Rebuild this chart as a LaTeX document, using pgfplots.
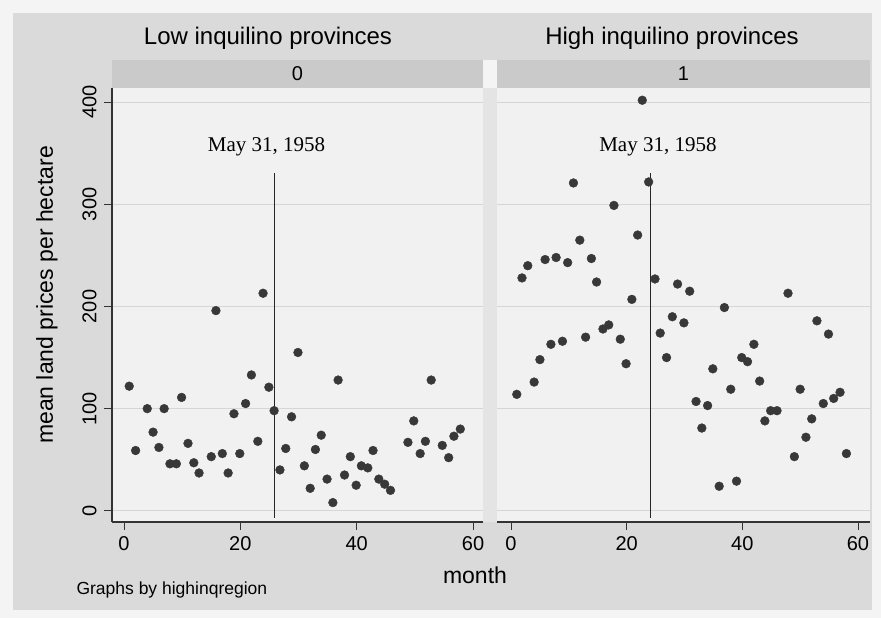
\documentclass[border=0pt]{standalone}
\usepackage{fontspec}
\setmainfont{Liberation Sans}
\newfontfamily\seriffont{Liberation Serif}
\usepackage{pgfplots}
\pgfplotsset{compat=1.18}

\definecolor{margin}{HTML}{F4F4F4}
\definecolor{outerbg}{HTML}{DADADA}
\definecolor{stripbg}{HTML}{CACACA}
\definecolor{plotbg}{HTML}{F1F1F1}
\definecolor{gapc}{HTML}{E4E4E4}
\definecolor{gridc}{HTML}{D6D6D6}
\definecolor{markc}{HTML}{383838}

\pgfplotstableread{
x y
0.9 122
2.0 59
4.0 100
5.0 77
6.0 62
6.9 100
7.9 46
9.0 46
9.9 111
11.0 66
12.0 47
12.9 37
15.0 53
15.8 196
16.9 56
17.9 37
18.9 95
19.9 56
20.9 105
21.9 133
23.0 68
23.9 213
24.9 121
25.8 98
26.8 40
27.8 61
28.8 92
29.9 155
31.0 44
32.0 22
32.9 60
33.9 74
34.9 31
35.9 8
36.8 128
37.9 35
38.9 53
39.9 25
40.8 44
41.9 42
42.8 59
43.8 31
44.8 26
45.8 20
48.8 67
49.8 88
50.9 56
51.8 68
52.8 128
54.7 64
55.8 52
56.7 73
57.8 80
}\lowtab

\pgfplotstableread{
x y
1.0 114
1.9 228
2.9 240
4.0 126
5.0 148
5.9 246
6.9 163
7.8 248
8.9 166
9.8 243
10.8 321
11.9 265
12.9 170
13.9 247
14.8 224
15.9 178
16.9 182
17.8 299
18.9 168
19.9 144
20.9 207
21.9 270
22.7 402
23.8 322
24.9 227
25.8 174
26.9 150
27.9 190
28.8 222
29.9 184
30.9 215
32.0 107
33.0 81
34.0 103
34.9 139
36.0 24
36.9 199
38.0 119
39.0 29
39.9 150
40.9 146
42.0 163
43.0 127
43.9 88
44.9 98
46.0 98
47.9 213
49.0 53
50.0 119
51.0 72
52.0 90
52.9 186
54.0 105
54.9 173
55.8 110
56.9 116
58.0 56
}\hightab

\pgfplotsset{
  panel/.style={
    scale only axis, height=434pt,
    anchor=south west,
    ymin=-11, ymax=414,
    ytick={0,100,200,300,400},
    xtick={0,20,40,60},
    axis x line*=bottom, axis y line*=left,
    axis line style={draw=black!80, line width=1.2pt, -},
    tick align=outside,
    major tick length=8pt,
    tick style={draw=black!80, line width=0.9pt},
    ymajorgrids,
    major grid style={gridc, line width=0.8pt},
    axis background/.style={fill=plotbg},
    /pgf/number format/assume math mode=true,
    ticklabel style={font=\fontsize{20}{22}\selectfont},
    xticklabel shift=3pt,
    clip=false,
  },
  dots/.style={only marks, mark=*, mark size=4.4pt, mark options={fill=markc, draw=markc}},
}

\begin{document}
\begin{tikzpicture}
% background
\fill[margin] (0pt,0pt) rectangle (881pt,618pt);
\fill[outerbg] (13pt,8pt) rectangle (872pt,605pt);
% strips
\fill[stripbg] (112pt,530pt) rectangle (483pt,558pt);
\fill[stripbg] (497pt,530pt) rectangle (870pt,558pt);
\fill[margin] (483pt,530pt) rectangle (497pt,558pt);
\fill[gapc] (483pt,96pt) rectangle (497pt,530pt);
\node[font=\fontsize{20}{22}\selectfont] at (297.5pt,544pt) {0};
\node[font=\fontsize{20}{22}\selectfont] at (683.5pt,544pt) {1};
% titles
\node[font=\fontsize{24}{26}\selectfont] at (268pt,580pt) {Low inquilino provinces};
\node[font=\fontsize{24}{26}\selectfont] at (672pt,580pt) {High inquilino provinces};

\begin{axis}[panel, at={(112pt,96pt)}, width=371pt,
  xmin=-2.06, xmax=61.7,
  yticklabel style={rotate=90, anchor=south},
  yticklabel shift=4pt,
]
\addplot[black!85, line width=1pt] coordinates {(25.8,-7) (25.8,331)};
\addplot[dots] table[x=x,y=y] {\lowtab};
\node[font=\seriffont\fontsize{21}{23}\selectfont] at (axis cs:24.5,356) {May 31, 1958};
\end{axis}

\begin{axis}[panel, at={(497pt,96pt)}, width=373pt,
  xmin=-2.42, xmax=62.08,
  y axis line style={draw=none},
  ytick style={draw=none},
  yticklabels={},
]
\addplot[black!85, line width=1pt] coordinates {(24.2,-7) (24.2,331)};
\addplot[dots] table[x=x,y=y] {\hightab};
\node[font=\seriffont\fontsize{21}{23}\selectfont] at (axis cs:25.4,356) {May 31, 1958};
\end{axis}

% axis titles
\node[font=\fontsize{23}{25}\selectfont, rotate=90] at (47pt,323pt) {mean land prices per hectare};
\node[font=\fontsize{23}{25}\selectfont] at (475pt,43pt) {month};
\node[font=\fontsize{17.5}{19}\selectfont, anchor=west] at (73pt,28pt) {Graphs by highinqregion};
\end{tikzpicture}
\end{document}
